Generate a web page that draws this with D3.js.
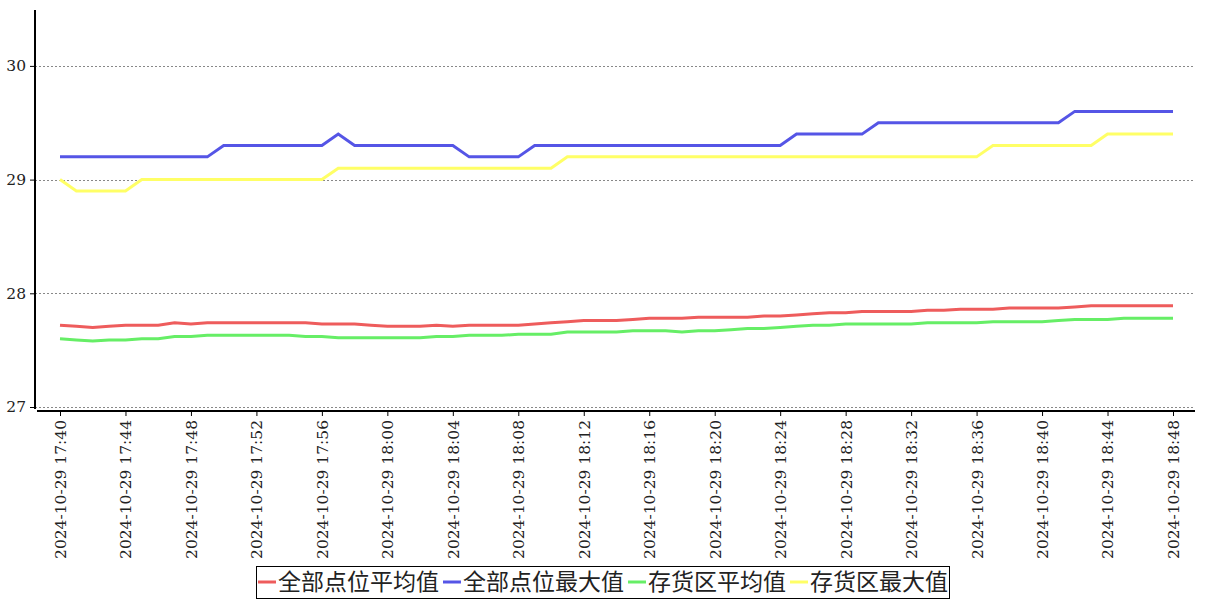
<!DOCTYPE html>
<html><head><meta charset="utf-8">
<script src="https://cdn.jsdelivr.net/npm/d3@7"></script>
<style>body{margin:0;background:#fff}svg{display:block}</style>
</head><body>
<svg id="c" width="1207" height="600"></svg>
<script>
const times = ["17:40","17:41","17:42","17:43","17:44","17:45","17:46","17:47","17:48","17:49",
"17:50","17:51","17:52","17:53","17:54","17:55","17:56","17:57","17:58","17:59",
"18:00","18:01","18:02","18:03","18:04","18:05","18:06","18:07","18:08","18:09",
"18:10","18:11","18:12","18:13","18:14","18:15","18:16","18:17","18:18","18:19",
"18:20","18:21","18:22","18:23","18:24","18:25","18:26","18:27","18:28","18:29",
"18:30","18:31","18:32","18:33","18:34","18:35","18:36","18:37","18:38","18:39",
"18:40","18:41","18:42","18:43","18:44","18:45","18:46","18:47","18:48"];
const categories = times.map(t => "2024-10-29 " + t);

const allAvg = [27.72,27.71,27.70,27.71,27.72,27.72,27.72,27.74,27.73,27.74,
27.74,27.74,27.74,27.74,27.74,27.74,27.73,27.73,27.73,27.72,
27.71,27.71,27.71,27.72,27.71,27.72,27.72,27.72,27.72,27.73,
27.74,27.75,27.76,27.76,27.76,27.77,27.78,27.78,27.78,27.79,
27.79,27.79,27.79,27.80,27.80,27.81,27.82,27.83,27.83,27.84,
27.84,27.84,27.84,27.85,27.85,27.86,27.86,27.86,27.87,27.87,
27.87,27.87,27.88,27.89,27.89,27.89,27.89,27.89,27.89];
const allMax = [29.2,29.2,29.2,29.2,29.2,29.2,29.2,29.2,29.2,29.2,
29.3,29.3,29.3,29.3,29.3,29.3,29.3,29.4,29.3,29.3,
29.3,29.3,29.3,29.3,29.3,29.2,29.2,29.2,29.2,29.3,
29.3,29.3,29.3,29.3,29.3,29.3,29.3,29.3,29.3,29.3,
29.3,29.3,29.3,29.3,29.3,29.4,29.4,29.4,29.4,29.4,
29.5,29.5,29.5,29.5,29.5,29.5,29.5,29.5,29.5,29.5,
29.5,29.5,29.6,29.6,29.6,29.6,29.6,29.6,29.6];
const stockAvg = [27.60,27.59,27.58,27.59,27.59,27.60,27.60,27.62,27.62,27.63,
27.63,27.63,27.63,27.63,27.63,27.62,27.62,27.61,27.61,27.61,
27.61,27.61,27.61,27.62,27.62,27.63,27.63,27.63,27.64,27.64,
27.64,27.66,27.66,27.66,27.66,27.67,27.67,27.67,27.66,27.67,
27.67,27.68,27.69,27.69,27.70,27.71,27.72,27.72,27.73,27.73,
27.73,27.73,27.73,27.74,27.74,27.74,27.74,27.75,27.75,27.75,
27.75,27.76,27.77,27.77,27.77,27.78,27.78,27.78,27.78];
const stockMax = [29.0,28.9,28.9,28.9,28.9,29.0,29.0,29.0,29.0,29.0,
29.0,29.0,29.0,29.0,29.0,29.0,29.0,29.1,29.1,29.1,
29.1,29.1,29.1,29.1,29.1,29.1,29.1,29.1,29.1,29.1,
29.1,29.2,29.2,29.2,29.2,29.2,29.2,29.2,29.2,29.2,
29.2,29.2,29.2,29.2,29.2,29.2,29.2,29.2,29.2,29.2,
29.2,29.2,29.2,29.2,29.2,29.2,29.2,29.3,29.3,29.3,
29.3,29.3,29.3,29.3,29.4,29.4,29.4,29.4,29.4];

const seriesNames = ["全部点位平均值","全部点位最大值","存货区平均值","存货区最大值"];
const seriesColors = ["#ee5c5c","#5555e6","#66ee66","#ffff66"];
const seriesData = [allAvg, allMax, stockAvg, stockMax];
const yTicks = [27, 28, 29, 30];

(function(){
const svg = d3.select("#c");
const pLeft = 35, pRight = 1195, pTop = 10, pBottom = 407;
const x = d3.scalePoint().domain(categories).range([60, 1173]);
const y = d3.scaleLinear().domain([27, 30.5]).range([pBottom, pBottom - 3.5*113.7]);

// gridlines
svg.append("g").selectAll("line").data(yTicks).join("line")
  .attr("x1", pLeft).attr("x2", pRight)
  .attr("y1", d => Math.round(y(d)) + 0.5).attr("y2", d => Math.round(y(d)) + 0.5)
  .attr("stroke", "#888").attr("stroke-width", 1).attr("stroke-dasharray", "2,2");

// y axis
const yAxis = d3.axisLeft(y).tickValues(yTicks).tickSize(5).tickPadding(4).tickFormat(d3.format("d"));
const gy = svg.append("g").attr("transform", `translate(${pLeft},0)`).call(yAxis);
gy.select(".domain").remove();
gy.selectAll(".tick line").attr("stroke", "#000");
gy.selectAll("text").attr("font-family", "DejaVu Serif").attr("font-size", 15.5).attr("fill", "#222");
svg.append("line").attr("x1", pLeft).attr("x2", pLeft).attr("y1", pTop).attr("y2", 409)
  .attr("stroke", "#000").attr("stroke-width", 2);

// x axis
const xTickVals = categories.filter((d, i) => i % 4 === 0);
const xAxis = d3.axisBottom(x).tickValues(xTickVals).tickSize(5).tickPadding(6);
const gx = svg.append("g").attr("transform", `translate(0,411)`).call(xAxis);
gx.select(".domain").remove();
gx.selectAll(".tick line").attr("stroke", "#000");
gx.selectAll("text")
  .attr("font-family", "DejaVu Serif").attr("font-size", 15.5).attr("fill", "#222")
  .attr("transform", "rotate(-90)")
  .attr("text-anchor", "end").attr("dy", "0.35em").attr("x", -9).attr("y", 0);
svg.append("line").attr("x1", 37).attr("x2", pRight).attr("y1", 411).attr("y2", 411)
  .attr("stroke", "#000").attr("stroke-width", 2);

// lines
const line = d3.line().x((d, i) => x(categories[i])).y(d => y(d));
seriesData.forEach((s, k) => {
  svg.append("path").datum(s).attr("d", line)
    .attr("fill", "none").attr("stroke", seriesColors[k]).attr("stroke-width", 3)
    .attr("stroke-linejoin", "miter");
});

// legend
const lg = svg.append("g");
const fs = 23;
let cx = 258;
const ly = 582;
seriesNames.forEach((n, k) => {
  lg.append("line").attr("x1", cx).attr("x2", cx + 18).attr("y1", ly).attr("y2", ly)
    .attr("stroke", seriesColors[k]).attr("stroke-width", 3);
  const t = lg.append("text").attr("x", cx + 20).attr("y", ly).attr("dy", "0.36em")
    .attr("font-family", "Noto Sans CJK SC").attr("font-size", fs).attr("fill", "#222").text(n);
  const w = t.node().getComputedTextLength();
  cx = cx + 20 + w + 4;
});
lg.insert("rect", ":first-child").attr("x", 256.5).attr("y", 566.5).attr("width", cx - 256 - 3).attr("height", 32)
  .attr("fill", "#fff").attr("stroke", "#000").attr("stroke-width", 1);
})();
</script>
</body></html>
